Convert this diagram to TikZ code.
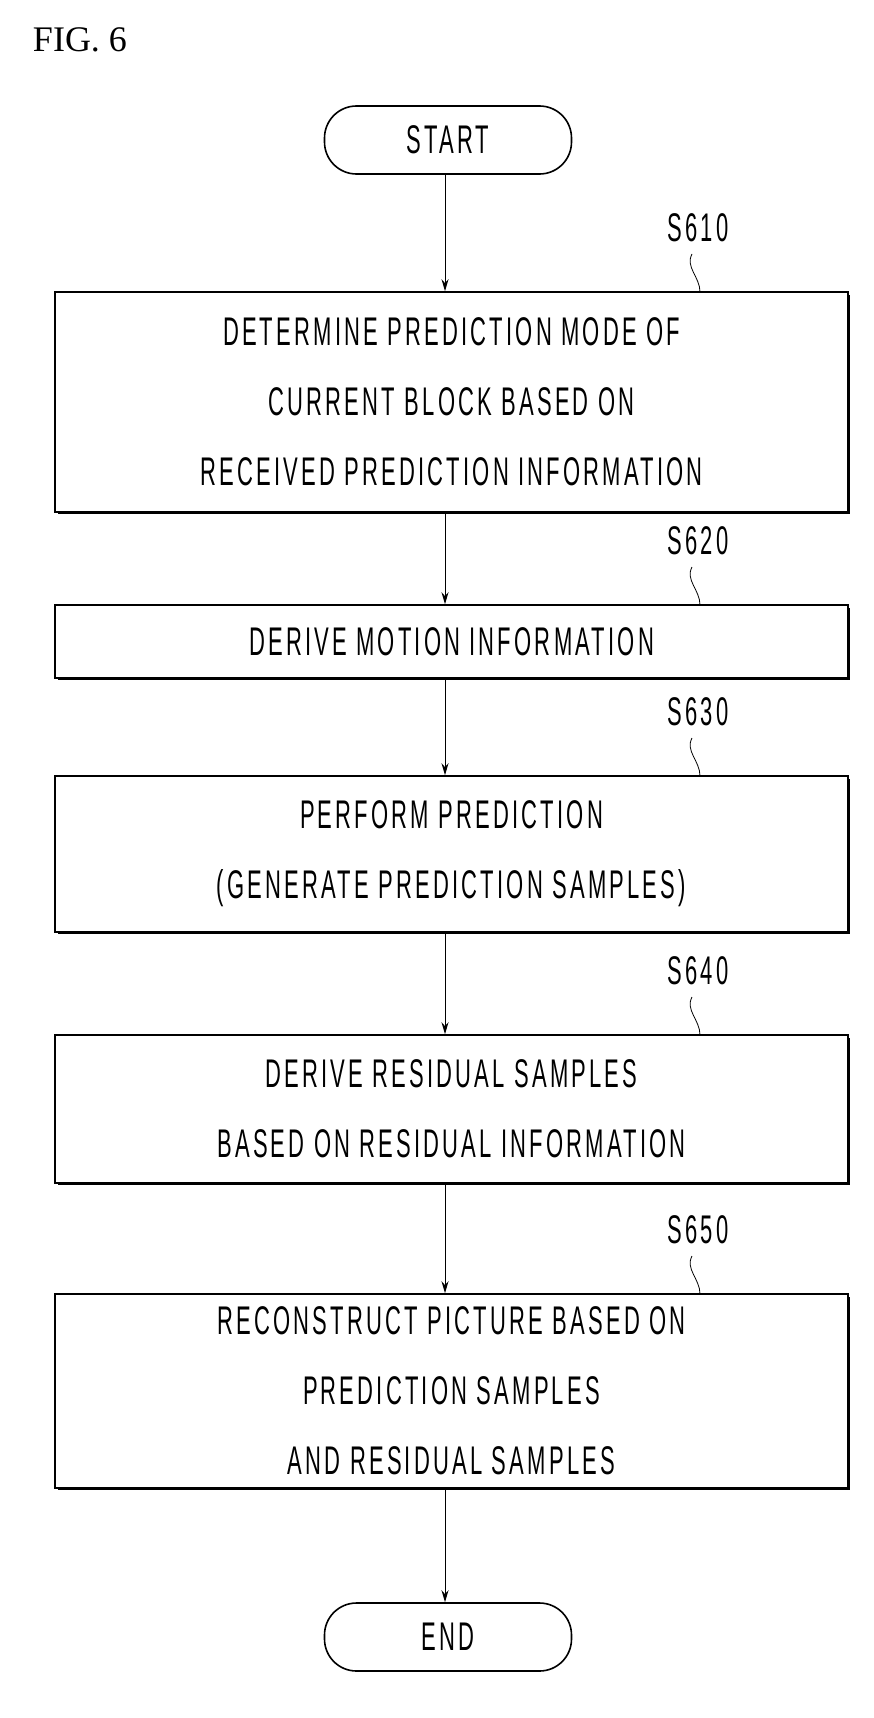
\documentclass[tikz,border=0pt]{standalone}
\usepackage{fontspec}
\usetikzlibrary{arrows.meta}
\setmainfont{Liberation Serif}
\newfontfamily\nar[FakeStretch=0.55,LetterSpace=8]{Liberation Sans}
\begin{document}
\begin{tikzpicture}[x=1pt,y=-1pt,
  boxst/.style={draw,line width=1.6pt,inner sep=0pt,font=\nar\fontsize{40}{70}\selectfont,align=center},
  term/.style={draw,line width=1.6pt,rounded corners=32pt,font=\nar\fontsize{40}{48}\selectfont},
  lbl/.style={font=\nar\fontsize{40}{48}\selectfont},
  arr/.style={-{Stealth[length=12pt,width=7pt]},line width=1pt},
  shadow/.style={line width=3pt}]
\useasboundingbox (0,0) rectangle (873,1718);
\node[font=\fontsize{36}{40}\selectfont] (fig) at (80,40) {FIG. 6};
\newcommand\stepbx[5]{% name, top, bottom, label, text
  \draw[boxst] (55,#2) rectangle (848,#3);
  \draw[shadow] (58,#3) -- (848,#3) -- (848,#2+3);
  \node[boxst,draw=none,minimum width=793pt,minimum height=#3-#2] (#1) at (451.5,{(#2+#3)/2}) {#5};
  \node[lbl] (#1l) at (698,{#2-64}) {#4};
  \draw[line width=0.8pt] (692,{#2-38}) .. controls (685,{#2-25}) and (700,{#2-15}) .. (700,#2);
}
\node[term,minimum width=247pt,minimum height=68pt] (start) at (448,140) {START};
\stepbx{b1}{292}{512}{S610}{DETERMINE PREDICTION MODE OF\\CURRENT BLOCK BASED ON\\RECEIVED PREDICTION INFORMATION}
\stepbx{b2}{605}{678}{S620}{DERIVE MOTION INFORMATION}
\stepbx{b3}{776}{932}{S630}{PERFORM PREDICTION\\(GENERATE PREDICTION SAMPLES)}
\stepbx{b4}{1035}{1183}{S640}{DERIVE RESIDUAL SAMPLES\\BASED ON RESIDUAL INFORMATION}
\stepbx{b5}{1294}{1488}{S650}{RECONSTRUCT PICTURE BASED ON\\PREDICTION SAMPLES\\AND RESIDUAL SAMPLES}
\node[term,minimum width=247pt,minimum height=68pt] (end) at (448,1637) {END};
\draw[arr] (start.south -| 445,0) -- (b1.north -| 445,0);
\draw[arr] (b1.south -| 445,0) -- (b2.north -| 445,0);
\draw[arr] (b2.south -| 445,0) -- (b3.north -| 445,0);
\draw[arr] (b3.south -| 445,0) -- (b4.north -| 445,0);
\draw[arr] (b4.south -| 445,0) -- (b5.north -| 445,0);
\draw[arr] (b5.south -| 445,0) -- (end.north -| 445,0);
\end{tikzpicture}
\end{document}
